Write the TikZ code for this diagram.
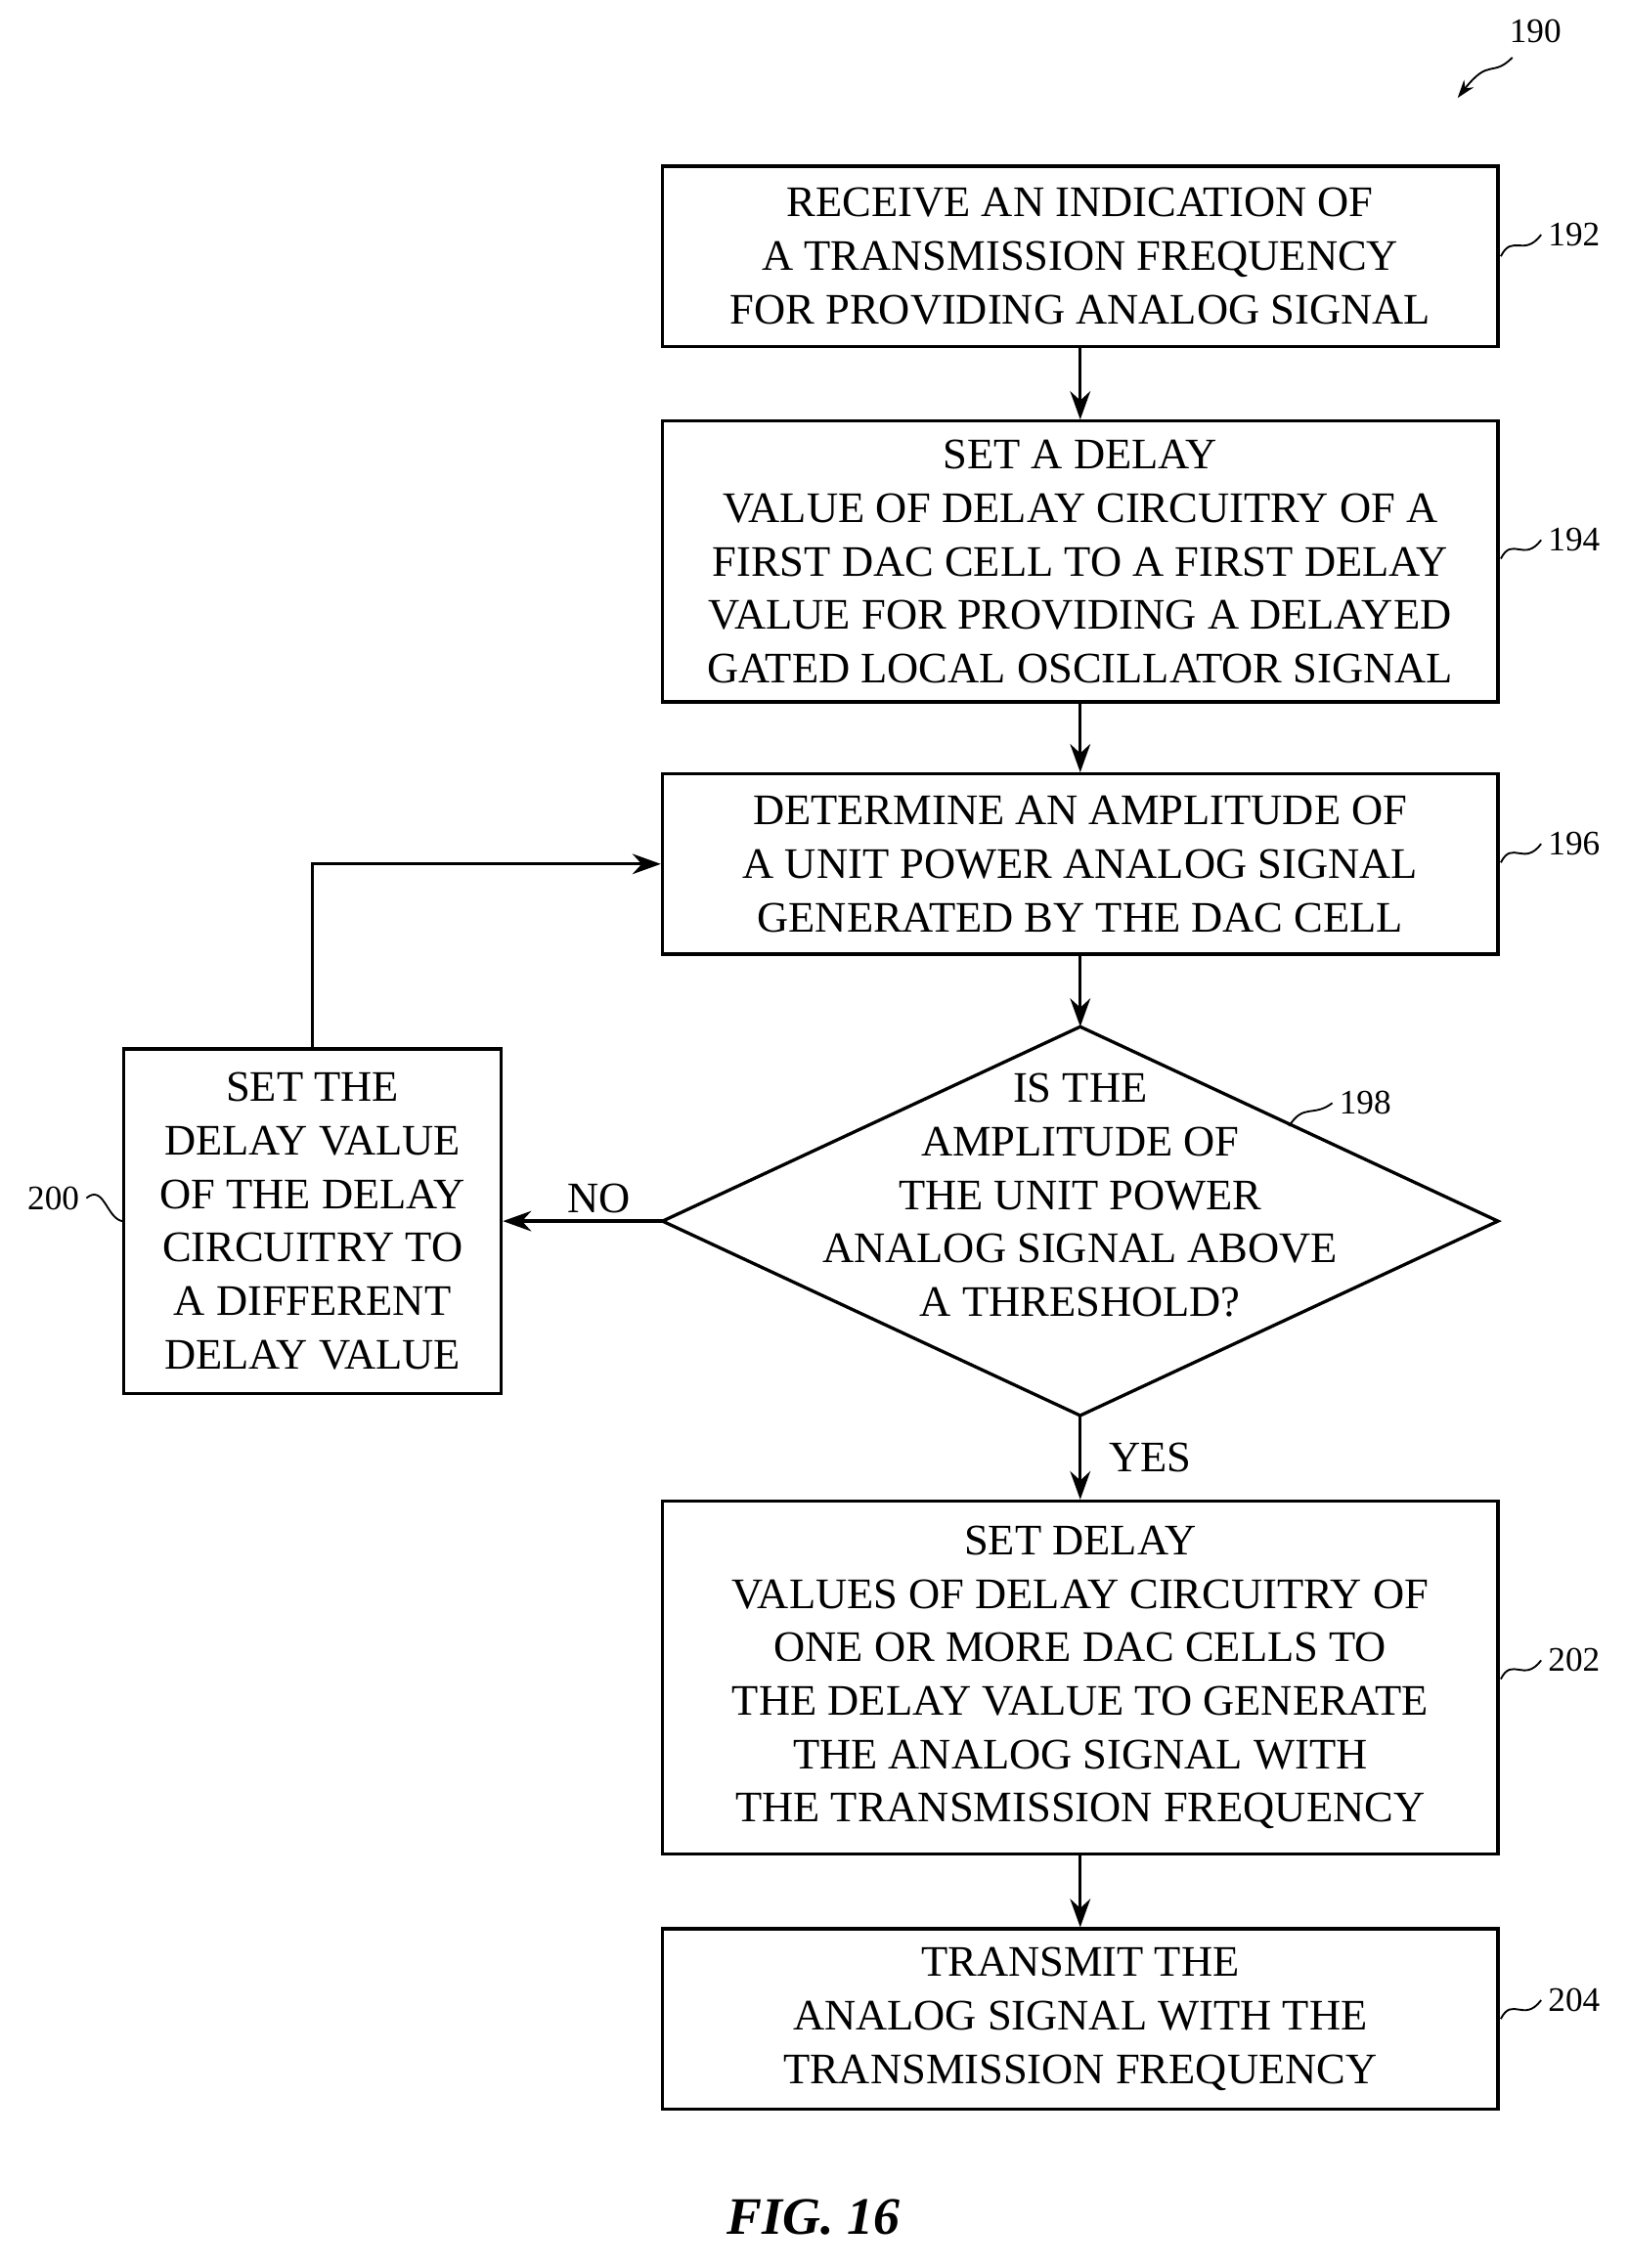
\documentclass[tikz,border=0pt]{standalone}
\usepackage{fontspec}
\setmainfont{Liberation Serif}
\usetikzlibrary{arrows.meta, positioning, calc}
\tikzset{
  procbox/.style={draw, line width=1.6pt, minimum width=14.5cm, align=center, inner sep=0pt,
    font=\fontsize{21.5}{26.4}\selectfont},
  flow/.style={line width=1.6pt, -{Stealth[length=14pt,width=10pt]}},
  tag/.style={font=\fontsize{17}{20}\selectfont},
  squig/.style={line width=0.9pt}
}
\newcommand{\reftag}[3]{% box edge point, label point, label
  \node[tag, anchor=west] (t#3) at (#2) {#3};
  \draw[squig] (#1) .. controls ($(#1)+(8,-16)$) and ($(t#3.west)+(-12,16)$) .. (t#3.west);
}
\begin{document}
\begin{tikzpicture}[x=0.025cm, y=-0.025cm]
\useasboundingbox (0,0) rectangle (1131,1575);

% process steps
\node[procbox, minimum height=3.125cm] (s192) at (750,178)
  {RECEIVE AN INDICATION OF\\A TRANSMISSION FREQUENCY\\FOR PROVIDING ANALOG SIGNAL};
\node[procbox, minimum height=4.875cm] (s194) at (750,390)
  {SET A DELAY\\VALUE OF DELAY CIRCUITRY OF A\\FIRST DAC CELL TO A FIRST DELAY\\VALUE FOR PROVIDING A DELAYED\\GATED LOCAL OSCILLATOR SIGNAL};
\node[procbox, minimum height=3.125cm] (s196) at (750,600)
  {DETERMINE AN AMPLITUDE OF\\A UNIT POWER ANALOG SIGNAL\\GENERATED BY THE DAC CELL};

% decision
\node[align=center, font=\fontsize{21.5}{26.4}\selectfont] (s198) at (750,830)
  {IS THE\\AMPLITUDE OF\\THE UNIT POWER\\ANALOG SIGNAL ABOVE\\A THRESHOLD?};
\coordinate (dt) at (750,713);
\coordinate (db) at (750,983);
\coordinate (dl) at (460,848);
\coordinate (dr) at (1040,848);
\draw[line width=1.6pt] (dt) -- (dr) -- (db) -- (dl) -- cycle;

\node[procbox, minimum width=6.55cm, minimum height=5.975cm] (s200) at (217,848)
  {SET THE\\DELAY VALUE\\OF THE DELAY\\CIRCUITRY TO\\A DIFFERENT\\DELAY VALUE};
\node[procbox, minimum height=6.125cm] (s202) at (750,1165)
  {SET DELAY\\VALUES OF DELAY CIRCUITRY OF\\ONE OR MORE DAC CELLS TO\\THE DELAY VALUE TO GENERATE\\THE ANALOG SIGNAL WITH\\THE TRANSMISSION FREQUENCY};
\node[procbox, minimum height=3.125cm] (s204) at (750,1402)
  {TRANSMIT THE\\ANALOG SIGNAL WITH THE\\TRANSMISSION FREQUENCY};

% connectors
\draw[flow] (s192) -- (s194);
\draw[flow] (s194) -- (s196);
\draw[flow] (s196) -- (dt);
\draw[flow] (db) -- node[right, font=\fontsize{21.5}{24}\selectfont, xshift=10pt] {YES} (s202);
\draw[flow] (dl) -- node[above, font=\fontsize{21.5}{24}\selectfont, xshift=8pt] {NO} (s200);
\draw[flow] (s200.north) |- (s196.west);
\draw[flow] (s202) -- (s204);

% reference numerals
\reftag{1042,178}{1070,163}{192}
\reftag{1042,388}{1070,375}{194}
\reftag{1042,599}{1070,586}{196}
\reftag{1042,1166}{1070,1153}{202}
\reftag{1042,1402}{1070,1389}{204}
\node[tag, anchor=west] (n198) at (925,766) {198};
\draw[squig] (895,782) .. controls (905,766) and (912,776) .. (n198.west);
\node[tag, anchor=east] (n200) at (60,832) {200};
\draw[squig] (n200.east) .. controls (72,822) and (74,846) .. (s200.west);
\node[tag] (n190) at (1066,22) {190};
\draw[squig, -{Stealth[length=9pt,width=6pt]}] (1050,40) .. controls (1036,54) and (1034,40) .. (1012,68);

\node[font=\fontsize{26}{30}\selectfont\bfseries\itshape] (fig) at (565,1540) {FIG. 16};
\end{tikzpicture}
\end{document}
